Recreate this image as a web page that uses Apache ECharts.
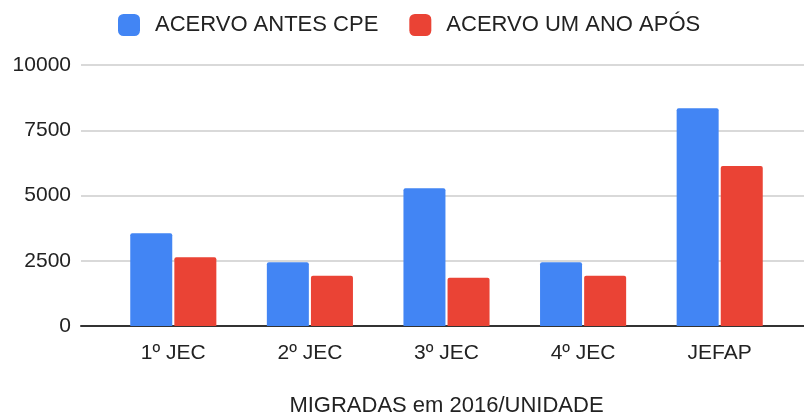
<!DOCTYPE html>
<html>
<head>
<meta charset="utf-8">
<script src="https://cdn.jsdelivr.net/npm/echarts@6/dist/echarts.min.js"></script>
<style>
  html, body { margin: 0; padding: 0; background: #fff; }
  #chart { width: 804px; height: 415px; }
</style>
</head>
<body>
<div id="chart"></div>
<script>
var categories = ['1º JEC', '2º JEC', '3º JEC', '4º JEC', 'JEFAP'];
var antesCpe = [3550, 2440, 5280, 2440, 8340];
var umAnoApos = [2630, 1930, 1850, 1930, 6130];
var yTicks = [0, 2500, 5000, 7500, 10000];

var font = '"Liberation Sans", Arial, sans-serif';
var textColor = '#222';

var chart = echarts.init(document.getElementById('chart'));
var option = {
  animation: false,
  legend: {
    left: 118,
    top: 14,
    padding: 0,
    itemWidth: 22,
    itemHeight: 22,
    itemGap: 31,
    icon: 'roundRect',
    textStyle: { fontFamily: font, fontSize: 22, color: textColor, padding: [0, 0, 0, 10] },
    data: ['ACERVO ANTES CPE', 'ACERVO UM ANO APÓS']
  },
  grid: [
    { left: 81, right: 0, top: 65, bottom: 89, outerBoundsMode: 'none' },
    { left: 105, right: 16, top: 65, bottom: 89, outerBoundsMode: 'none' }
  ],
  xAxis: [
    {
      gridIndex: 0, type: 'value', min: 0, max: 1,
      axisLine: { show: true, lineStyle: { color: '#333', width: 2 } },
      axisTick: { show: false }, axisLabel: { show: false }, splitLine: { show: false }
    },
    {
      gridIndex: 1, type: 'category', data: categories,
      axisLine: { show: false }, axisTick: { show: false },
      axisLabel: { fontFamily: font, fontSize: 21, color: textColor, margin: 17 },
      name: 'MIGRADAS em 2016/UNIDADE',
      nameLocation: 'middle',
      nameGap: 69,
      nameTextStyle: { fontFamily: font, fontSize: 22, color: textColor }
    }
  ],
  yAxis: [
    {
      gridIndex: 0, type: 'value', min: yTicks[0], max: yTicks[yTicks.length - 1], interval: 2500,
      axisLine: { show: false }, axisTick: { show: false },
      axisLabel: {
        fontFamily: font, fontSize: 21, color: textColor, margin: 10,
        formatter: function (v) { return String(v); }
      },
      splitLine: { lineStyle: { color: '#ccc', width: 1.5 } }
    },
    {
      gridIndex: 1, type: 'value', min: yTicks[0], max: yTicks[yTicks.length - 1], interval: 2500,
      show: false, splitLine: { show: false }
    }
  ],
  series: [
    {
      name: 'ACERVO ANTES CPE', type: 'bar', xAxisIndex: 1, yAxisIndex: 1,
      data: antesCpe, barWidth: 42, barGap: '5%',
      itemStyle: { color: '#4285F4', borderRadius: [2, 2, 0, 0] }
    },
    {
      name: 'ACERVO UM ANO APÓS', type: 'bar', xAxisIndex: 1, yAxisIndex: 1,
      data: umAnoApos, barWidth: 42, barGap: '5%',
      itemStyle: { color: '#EA4335', borderRadius: [2, 2, 0, 0] }
    }
  ]
};
chart.setOption(option);
</script>
</body>
</html>
